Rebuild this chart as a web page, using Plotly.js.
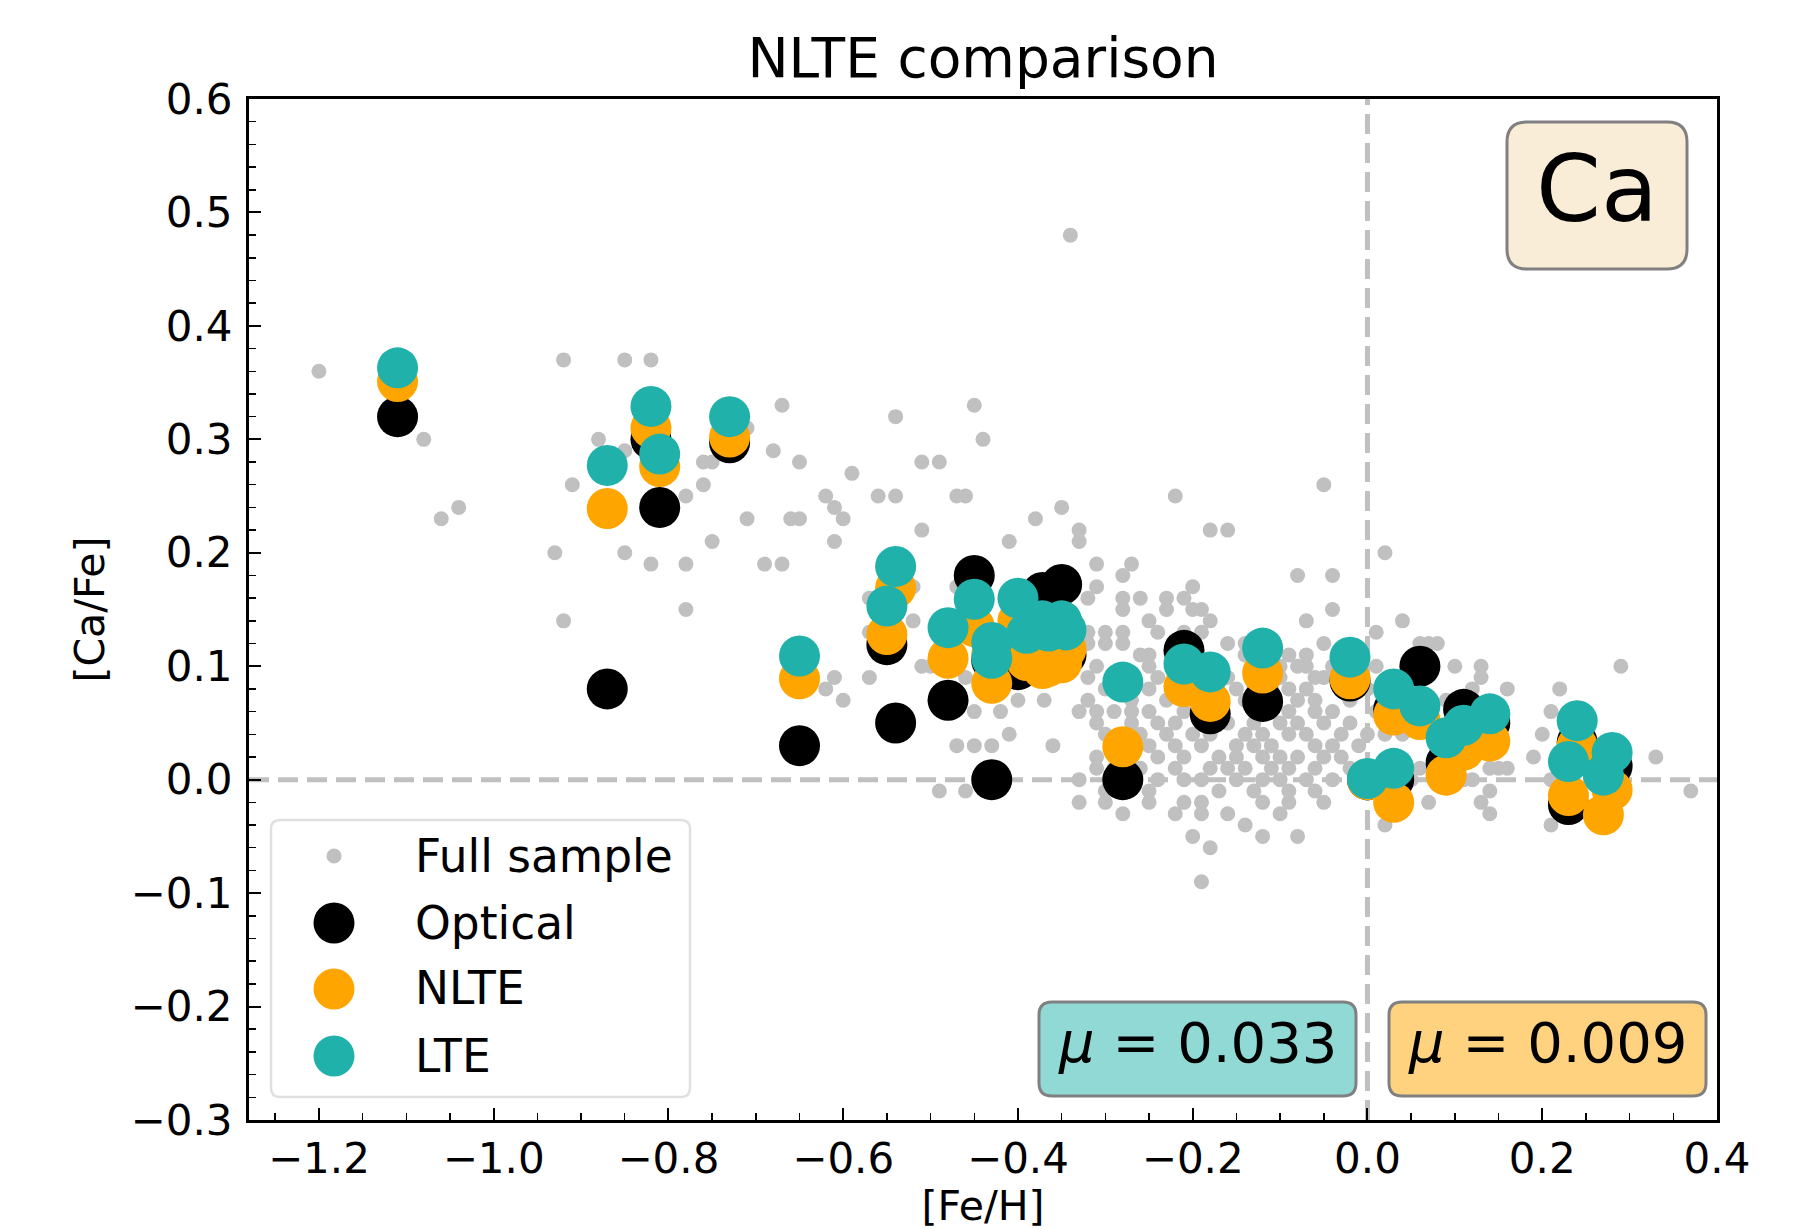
<!DOCTYPE html>
<html><head><meta charset="utf-8">
<script src="https://cdn.plot.ly/plotly-3.0.1.min.js"></script>
<style>html,body{margin:0;padding:0;background:#fff;}#chart{width:1820px;height:1230px;}</style>
</head><body><div id="chart"></div>
<script>
// ---------------- DATA ----------------
// Full sample: [Fe/H], [Ca/Fe] pairs
const fullSample = [
[-1.20,0.36],[-1.08,0.30],[-1.06,0.23],[-1.04,0.24],[-0.92,0.37],[-0.85,0.37],[-0.82,0.37],
[-0.88,0.30],[-0.85,0.29],[-0.91,0.26],[-0.93,0.20],[-0.92,0.14],[-0.85,0.20],[-0.82,0.19],
[-0.78,0.19],[-0.78,0.15],[-0.78,0.25],[-0.76,0.28],[-0.75,0.28],[-0.76,0.26],[-0.75,0.21],
[-0.71,0.31],[-0.67,0.33],[-0.68,0.29],[-0.65,0.28],[-0.71,0.23],[-0.66,0.23],[-0.65,0.23],
[-0.69,0.19],[-0.67,0.19],[-0.62,0.25],[-0.61,0.24],[-0.60,0.23],[-0.59,0.27],[-0.61,0.21],
[-0.56,0.25],[-0.54,0.25],[-0.54,0.32],[-0.51,0.28],[-0.49,0.28],[-0.45,0.33],[-0.44,0.30],
[-0.47,0.25],[-0.46,0.25],[-0.51,0.22],[-0.52,0.17],[-0.52,0.14],[-0.57,0.16],[-0.47,0.17],
[-0.57,0.13],[-0.34,0.48],[-0.35,0.24],[-0.38,0.23],[-0.33,0.22],[-0.41,0.21],[-0.33,0.21],
[-0.31,0.19],[-0.27,0.19],[-0.28,0.18],[-0.31,0.17],[-0.32,0.16],[-0.28,0.16],[-0.28,0.15],
[-0.26,0.16],[-0.23,0.16],[-0.21,0.16],[-0.20,0.17],[-0.23,0.15],[-0.20,0.15],[-0.19,0.15],
[-0.22,0.25],[-0.18,0.22],[-0.16,0.22],[-0.08,0.18],[-0.04,0.18],[-0.05,0.26],[0.02,0.20],
[-0.04,0.15],[-0.07,0.14],[-0.25,0.14],[-0.18,0.14],[0.04,0.14],[-0.24,0.13],[-0.21,0.13],
[-0.19,0.13],[0.01,0.13],[-0.32,0.13],[-0.30,0.13],[-0.28,0.13],
[-0.51,0.10],[-0.50,0.10],[-0.57,0.09],[-0.61,0.09],[-0.62,0.08],[-0.60,0.07],[-0.46,0.09],
[-0.45,0.06],[-0.42,0.06],[-0.40,0.07],[-0.37,0.07],[-0.47,0.03],[-0.45,0.03],[-0.43,0.03],
[-0.41,0.04],[-0.36,0.03],[-0.49,-0.01],[-0.46,-0.01],
[-0.32,0.12],[-0.30,0.12],[-0.28,0.12],[-0.16,0.12],[-0.14,0.12],[-0.05,0.12],
[-0.26,0.11],[-0.25,0.11],[-0.14,0.11],[-0.11,0.11],[-0.09,0.11],[-0.07,0.11],[-0.03,0.11],[-0.01,0.11],
[-0.31,0.10],[-0.25,0.10],[-0.20,0.10],[-0.13,0.10],[-0.10,0.10],[-0.08,0.10],[-0.07,0.10],[-0.04,0.10],[-0.02,0.10],[0.01,0.10],
[-0.32,0.09],[-0.27,0.09],[-0.24,0.09],[-0.16,0.09],[-0.12,0.09],[-0.10,0.09],[-0.06,0.09],[-0.05,0.09],[-0.01,0.09],[0.03,0.09],
[-0.30,0.08],[-0.25,0.08],[-0.22,0.08],[-0.15,0.08],[-0.13,0.08],[-0.11,0.08],[-0.09,0.08],[-0.07,0.08],[-0.03,0.08],[0.00,0.08],
[-0.32,0.07],[-0.27,0.07],[-0.23,0.07],[-0.19,0.07],[-0.14,0.07],[-0.11,0.07],[-0.08,0.07],[-0.06,0.07],[-0.02,0.07],[0.02,0.07],
[-0.33,0.06],[-0.31,0.06],[-0.29,0.06],[-0.27,0.06],[-0.25,0.06],[-0.21,0.06],[-0.17,0.06],[-0.12,0.06],[-0.09,0.06],[-0.06,0.06],[-0.04,0.06],[0.01,0.06],
[-0.31,0.05],[-0.27,0.05],[-0.24,0.05],[-0.22,0.05],[-0.19,0.05],[-0.16,0.05],[-0.13,0.05],[-0.10,0.05],[-0.08,0.05],[-0.05,0.05],[-0.02,0.05],
[-0.30,0.04],[-0.26,0.04],[-0.23,0.04],[-0.20,0.04],[-0.18,0.04],[-0.14,0.04],[-0.12,0.04],[-0.09,0.04],[-0.07,0.04],[-0.03,0.04],[0.00,0.04],[0.02,0.04],
[-0.28,0.03],[-0.25,0.03],[-0.22,0.03],[-0.19,0.03],[-0.15,0.03],[-0.13,0.03],[-0.11,0.03],[-0.06,0.03],[-0.04,0.03],[-0.01,0.03],
[-0.31,0.02],[-0.27,0.02],[-0.24,0.02],[-0.21,0.02],[-0.17,0.02],[-0.15,0.02],[-0.12,0.02],[-0.10,0.02],[-0.08,0.02],[-0.05,0.02],[-0.03,0.02],
[-0.31,0.01],[-0.29,0.01],[-0.26,0.01],[-0.22,0.01],[-0.18,0.01],[-0.16,0.01],[-0.14,0.01],[-0.11,0.01],[-0.09,0.01],[-0.06,0.01],[-0.02,0.01],[0.03,0.01],
[-0.33,0.00],[-0.28,0.00],[-0.24,0.00],[-0.21,0.00],[-0.19,0.00],[-0.15,0.00],[-0.12,0.00],[-0.10,0.00],[-0.07,0.00],[-0.04,0.00],
[-0.30,-0.01],[-0.25,-0.01],[-0.17,-0.01],[-0.13,-0.01],[-0.09,-0.01],[-0.06,-0.01],
[-0.33,-0.02],[-0.30,-0.02],[-0.25,-0.02],[-0.21,-0.02],[-0.19,-0.02],[-0.12,-0.02],[-0.09,-0.02],[-0.05,-0.02],
[-0.28,-0.03],[-0.22,-0.03],[-0.19,-0.03],[-0.16,-0.03],[-0.10,-0.03],
[-0.14,-0.04],[0.02,-0.04],[-0.20,-0.05],[-0.12,-0.05],[-0.08,-0.05],[-0.18,-0.06],[-0.19,-0.09],
[0.06,0.12],[0.07,0.12],[0.08,0.12],[0.10,0.10],[0.13,0.10],[0.29,0.10],[0.13,0.09],
[0.12,0.08],[0.16,0.08],[0.22,0.08],[0.09,0.07],[0.21,0.06],[0.20,0.04],[0.04,0.04],
[0.19,0.02],[0.33,0.02],[0.14,0.01],[0.15,0.01],[0.16,0.01],[0.06,0.01],
[0.11,0.00],[0.21,0.00],[0.05,0.00],[0.12,0.00],[0.14,-0.01],[0.37,-0.01],[0.04,-0.01],
[0.07,-0.02],[0.13,-0.02],[0.14,-0.03],[0.21,-0.04]
];
const fullFeH  = fullSample.map(p => p[0]);
const fullCaFe = fullSample.map(p => p[1]);

// Comparison stars: [Fe/H] and [Ca/Fe] for the three analyses
const starFeH = [-1.11,-0.87,-0.82,-0.81,-0.73,-0.65,-0.54,-0.55,-0.48,-0.45,-0.43,-0.43,-0.40,-0.39,-0.372,-0.365,-0.35,-0.345,-0.28,-0.21,-0.18,-0.12,-0.02,0.00,0.03,0.03,0.06,0.09,0.11,0.14,0.24,0.23,0.28,0.27];
const opticalCaFe = [0.320,0.080,0.300,0.240,0.297,0.030,0.050,0.119,0.070,0.180,0.000,0.105,0.097,0.105,0.165,0.110,0.172,0.110,0.000,0.114,0.058,0.069,0.087,0.000,0.000,0.062,0.100,0.015,0.062,0.050,0.033,-0.022,0.012,0.015];
const nlteCaFe = [0.351,0.239,0.310,0.276,0.302,0.089,0.169,0.128,0.107,0.135,0.085,0.110,0.140,0.105,0.098,0.100,0.103,0.115,0.029,0.082,0.069,0.094,0.089,0.000,-0.020,0.057,0.053,0.004,0.026,0.034,0.030,-0.014,-0.009,-0.031];
const lteCaFe = [0.363,0.277,0.329,0.287,0.320,0.109,0.188,0.153,0.134,0.159,0.107,0.121,0.160,0.129,0.140,0.131,0.140,0.132,0.086,0.102,0.095,0.116,0.108,0.001,0.010,0.080,0.065,0.037,0.048,0.058,0.052,0.016,0.024,0.004];

const legendLabels = ['Full sample','Optical','NLTE','LTE'];
const seriesColors = ['#c0c0c0','#000000','#ffa500','#20b2aa'];
const muLTE = '0.033';
const muNLTE = '0.009';
const elementLabel = 'Ca';

// ---------------- LAYOUT HELPERS ----------------
const W=1820, H=1230, ML=249, MR=103, MT=99, MB=110;
const PW=W-ML-MR, PH=H-MT-MB;
const FONT='DejaVu Sans, Verdana, sans-serif';
function px(x){return (x-ML)/PW;}
function py(y){return (H-MB-y)/PH;}
function rrect(x0,y0,x1,y1,r){
  const a=px(x0), b=px(x1), c=py(y0), d=py(y1), rx=r/PW, ry=r/PH;
  return `M${a+rx},${c} L${b-rx},${c} Q${b},${c} ${b},${c-ry} L${b},${d+ry} Q${b},${d} ${b-rx},${d} L${a+rx},${d} Q${a},${d} ${a},${d+ry} L${a},${c-ry} Q${a},${c} ${a+rx},${c} Z`;
}

const traces = [
  {x:fullFeH, y:fullCaFe, type:'scatter', mode:'markers', name:legendLabels[0],
   marker:{size:15, color:seriesColors[0], line:{width:0}}, hoverinfo:'skip'},
  {x:starFeH, y:opticalCaFe, type:'scatter', mode:'markers', name:legendLabels[1],
   marker:{size:41, color:seriesColors[1], line:{width:0}}, hoverinfo:'skip'},
  {x:starFeH, y:nlteCaFe, type:'scatter', mode:'markers', name:legendLabels[2],
   marker:{size:41, color:seriesColors[2], line:{width:0}}, hoverinfo:'skip'},
  {x:starFeH, y:lteCaFe, type:'scatter', mode:'markers', name:legendLabels[3],
   marker:{size:41, color:seriesColors[3], line:{width:0}}, hoverinfo:'skip'}
];

const shapes = [
  {type:'line', xref:'paper', x0:0, x1:1, yref:'y', y0:0, y1:0, layer:'below',
   line:{color:'#c0c0c0', width:5, dash:'20px,9px'}},
  {type:'line', xref:'x', x0:0, x1:0, yref:'paper', y0:0, y1:1, layer:'below',
   line:{color:'#c0c0c0', width:5, dash:'20px,9px'}},
  // legend frame
  {type:'path', xref:'paper', yref:'paper', path:rrect(271,820,690,1097,9), layer:'above',
   fillcolor:'rgba(255,255,255,0.85)', line:{color:'#e0e0e0', width:2.5}},
  // element box
  {type:'path', xref:'paper', yref:'paper', path:rrect(1507,122,1687,269,20), layer:'above',
   fillcolor:'#faedd8', line:{color:'#808080', width:3}},
  // mu boxes
  {type:'path', xref:'paper', yref:'paper', path:rrect(1039,1002,1356,1096,13), layer:'above',
   fillcolor:'#90d9d5', line:{color:'#808080', width:3}},
  {type:'path', xref:'paper', yref:'paper', path:rrect(1389,1002,1706,1096,13), layer:'above',
   fillcolor:'#ffd280', line:{color:'#808080', width:3}}
];
const legendRowsY = [856, 923, 989, 1056];
const legendSizes = [15, 41, 41, 41];
legendLabels.forEach((lab,i)=>{
  const r = legendSizes[i]/2;
  shapes.push({type:'circle', xref:'paper', yref:'paper', xsizemode:'pixel', ysizemode:'pixel',
    xanchor:px(334), yanchor:py(legendRowsY[i]), x0:-r, x1:r, y0:-r, y1:r,
    fillcolor:seriesColors[i], line:{width:0}, layer:'above'});
});

const annotations = legendLabels.map((lab,i)=>({
  xref:'paper', yref:'paper', x:px(413), y:py(legendRowsY[i]), xanchor:'left', yanchor:'middle',
  text:lab, showarrow:false, font:{family:FONT, size:45.5, color:'#000'}
}));
annotations.push({xref:'paper', yref:'paper', x:px(1597), y:py(189), xanchor:'center', yanchor:'middle',
  text:elementLabel, showarrow:false, font:{family:FONT, size:93, color:'#000'}});
annotations.push({xref:'paper', yref:'paper', x:px(1197), y:py(1042), xanchor:'center', yanchor:'middle',
  text:'<i>μ</i> = '+muLTE, showarrow:false, font:{family:FONT, size:56, color:'#000'}});
annotations.push({xref:'paper', yref:'paper', x:px(1547), y:py(1042), xanchor:'center', yanchor:'middle',
  text:'<i>μ</i> = '+muNLTE, showarrow:false, font:{family:FONT, size:56, color:'#000'}});

const axisCommon = {
  ticks:'inside', ticklen:12, tickwidth:2, tickcolor:'#000',
  showline:true, mirror:true, linewidth:3, linecolor:'#000',
  showgrid:false, zeroline:false, tickformat:'.1f',
  tickfont:{family:FONT, size:42, color:'#000'}, fixedrange:true
};

const layout = {
  width:W, height:H, paper_bgcolor:'#fff', plot_bgcolor:'#fff',
  margin:{l:ML, r:MR, t:MT, b:MB, pad:0},
  showlegend:false,
  font:{family:FONT, color:'#000'},
  title:{text:'NLTE comparison', font:{family:FONT, size:55, color:'#000'},
         x:0.5, xref:'paper', xanchor:'center', y:1-58/H, yref:'container', yanchor:'middle'},
  xaxis:Object.assign({}, axisCommon, {
    range:[-1.28,0.4], tick0:0, dtick:0.2, ticklabelstandoff:0,
    minor:{tick0:0, dtick:0.05, ticks:'inside', ticklen:7, tickwidth:1.5, tickcolor:'#000', showgrid:false},
    title:{text:'[Fe/H]', font:{family:FONT, size:41, color:'#000'}, standoff:20}
  }),
  yaxis:Object.assign({}, axisCommon, {
    range:[-0.3,0.6], tick0:0, dtick:0.1, ticklabelstandoff:5,
    minor:{tick0:0, dtick:0.02, ticks:'inside', ticklen:7, tickwidth:1.5, tickcolor:'#000', showgrid:false},
    title:{text:'[Ca/Fe]', font:{family:FONT, size:41, color:'#000'}, standoff:14}
  }),
  shapes:shapes,
  annotations:annotations
};

Plotly.newPlot('chart', traces, layout, {displayModeBar:false, staticPlot:true});
</script></body></html>
